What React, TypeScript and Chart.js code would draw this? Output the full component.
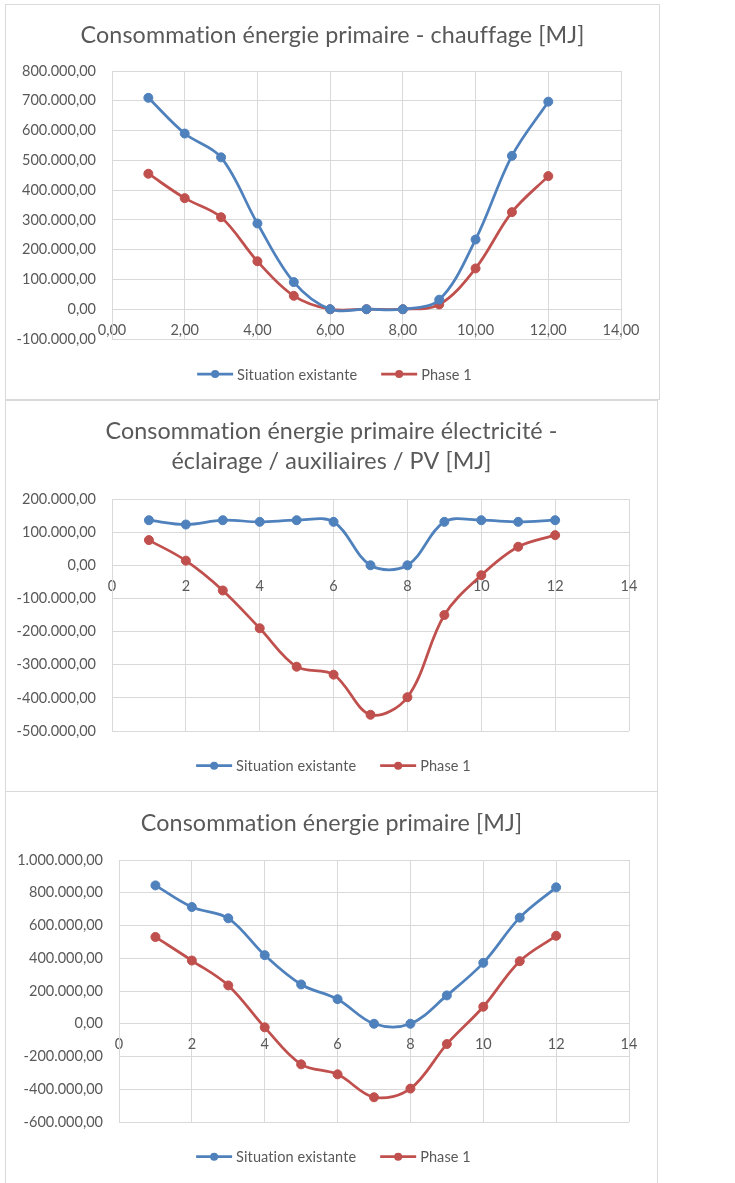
import { useEffect, useRef } from "react";
import { Chart, registerables } from "chart.js";

Chart.register(...registerables);

const FONT = "Lato";
const TEXT_COLOR = "#595959";
const GRID_COLOR = "#d9d9d9";
const BLUE = "#4f81bd";
const RED = "#c0504d";

// Months of the year (x values)
const months = [1, 2, 3, 4, 5, 6, 7, 8, 9, 10, 11, 12];

// Heating – primary energy [MJ]
const chauffageExistante = [710000, 590000, 510000, 288000, 91000, 0, 0, 0, 32000, 234000, 515000, 697000];
const chauffagePhase1 = [455000, 373000, 309000, 161000, 45000, 0, 0, 0, 16000, 137000, 326000, 447000];

// Electricity (lighting / auxiliaries / PV) – primary energy [MJ]
const electriciteExistante = [136000, 123000, 136000, 131000, 136000, 131000, 0, 0, 131000, 136000, 131000, 136000];
const electricitePhase1 = [76000, 14000, -76000, -190000, -306000, -330000, -451000, -398000, -150000, -30000, 56000, 91000];

// Total primary energy [MJ]
const totalExistante = [845000, 713000, 644000, 419000, 240000, 150000, 0, 0, 173000, 372000, 648000, 833000];
const totalPhase1 = [530000, 386000, 234000, -22000, -248000, -309000, -449000, -396000, -124000, 104000, 382000, 537000];

const seriesNames = ["Situation existante", "Phase 1"];

// Axis bounds: [min, max, step]
const chauffageYAxis = [-100000, 800000, 100000];
const electriciteYAxis = [-500000, 200000, 100000];
const totalYAxis = [-600000, 1000000, 200000];
const monthAxis = [0, 14, 2];

function formatNumber(v: number, decimals: number): string {
  const neg = v < 0;
  const fixed = Math.abs(v).toFixed(decimals);
  const [intPart, dec] = fixed.split(".");
  const grouped = intPart.replace(/\B(?=(\d{3})+(?!\d))/g, ".");
  return (neg ? "-" : "") + grouped + (dec ? "," + dec : "");
}

type Spec = {
  title: string[];
  titleBaselines: number[];
  existante: number[];
  phase1: number[];
  yAxis: number[];
  xDecimals: number;
  box: { left: number; top: number; width: number; height: number };
  padding: { left: number; top: number; right: number; bottom: number };
  axisWidth: number;
  legendY: number;
};

const specs: Spec[] = [
  {
    title: ["Consommation énergie primaire - chauffage [MJ]"],
    titleBaselines: [38.5],
    existante: chauffageExistante,
    phase1: chauffagePhase1,
    yAxis: chauffageYAxis,
    xDecimals: 2,
    box: { left: 5, top: 4, width: 655, height: 396 },
    padding: { left: 0, top: 67, right: 39, bottom: 61 },
    axisWidth: 107,
    legendY: 370,
  },
  {
    title: ["Consommation énergie primaire électricité -", "éclairage / auxiliaires / PV [MJ]"],
    titleBaselines: [39, 69],
    existante: electriciteExistante,
    phase1: electricitePhase1,
    yAxis: electriciteYAxis,
    xDecimals: 0,
    box: { left: 5, top: 400, width: 653, height: 392 },
    padding: { left: 0, top: 99, right: 29, bottom: 61 },
    axisWidth: 107,
    legendY: 365.7,
  },
  {
    title: ["Consommation énergie primaire [MJ]"],
    titleBaselines: [39.7],
    existante: totalExistante,
    phase1: totalPhase1,
    yAxis: totalYAxis,
    xDecimals: 0,
    box: { left: 5, top: 791, width: 653, height: 400 },
    padding: { left: 0, top: 69, right: 29, bottom: 69 },
    axisWidth: 114,
    legendY: 365.7,
  },
];

const TITLE_SIZE = 23.3;
const TICK_SIZE = 14.5;
const LEGEND_SIZE = 14.5;

// Draws the chart title and an Excel-style legend (line with a marker)
const decorations = {
  id: "decorations",
  afterDraw(chart: any, _args: any, opts: any) {
    const ctx: any = chart.ctx;
    ctx.save();
    // a tiny letter spacing keeps the browser from forming "ti" ligatures
    ctx.letterSpacing = "0.1px";
    ctx.fillStyle = TEXT_COLOR;
    ctx.font = `${TITLE_SIZE}px ${FONT}`;
    ctx.textAlign = "center";
    ctx.textBaseline = "alphabetic";
    (opts.title as string[]).forEach((line, i) => {
      ctx.fillText(line, chart.width / 2, opts.titleBaselines[i]);
    });

    ctx.font = `${LEGEND_SIZE}px ${FONT}`;
    const lineLen = 36;
    const gap = 4;
    const spacing = 24;
    const items = chart.data.datasets.map((ds: any) => ({
      label: ds.label as string,
      color: ds.borderColor as string,
      w: ctx.measureText(ds.label).width,
    }));
    const total =
      items.reduce((s: number, it: any) => s + lineLen + gap + it.w, 0) + spacing * (items.length - 1);
    let x = chart.width / 2 + 2 - total / 2;
    const y = opts.legendY;
    items.forEach((it: any) => {
      ctx.strokeStyle = it.color;
      ctx.lineWidth = 2.75;
      ctx.beginPath();
      ctx.moveTo(x, y);
      ctx.lineTo(x + lineLen, y);
      ctx.stroke();
      ctx.fillStyle = it.color;
      ctx.beginPath();
      ctx.arc(x + lineLen / 2, y, 4, 0, Math.PI * 2);
      ctx.fill();
      ctx.fillStyle = TEXT_COLOR;
      ctx.textAlign = "left";
      ctx.textBaseline = "middle";
      ctx.fillText(it.label, x + lineLen + gap, y + 1);
      x += lineLen + gap + it.w + spacing;
    });
    ctx.restore();
  },
};

function makeDataset(label: string, values: number[], color: string) {
  return {
    label,
    data: months.map((m, i) => ({ x: m, y: values[i] })),
    borderColor: color,
    backgroundColor: color,
    borderWidth: 2.75,
    pointRadius: 4.5,
    pointBorderWidth: 1,
    pointBackgroundColor: color,
    pointBorderColor: color,
    tension: 0.35,
    fill: false,
  };
}

function ChartBox({ spec }: { spec: Spec }) {
  const ref = useRef<HTMLCanvasElement>(null);
  useEffect(() => {
    const [yMin, yMax, yStep] = spec.yAxis;
    const [xMin, xMax, xStep] = monthAxis;
    const chart = new Chart(ref.current as HTMLCanvasElement, {
      type: "line",
      data: {
        datasets: [
          makeDataset(seriesNames[0], spec.existante, BLUE),
          makeDataset(seriesNames[1], spec.phase1, RED),
        ],
      },
      options: {
        responsive: false,
        animation: false,
        layout: { padding: spec.padding },
        plugins: {
          legend: { display: false },
          title: { display: false },
          tooltip: { enabled: false },
          decorations: {
            title: spec.title,
            titleBaselines: spec.titleBaselines,
            legendY: spec.legendY,
          },
        } as any,
        scales: {
          x: {
            type: "linear",
            position: { y: 0 } as any,
            min: xMin,
            max: xMax,
            grid: { color: GRID_COLOR, drawTicks: false, lineWidth: 1 },
            border: { color: GRID_COLOR },
            ticks: {
              stepSize: xStep,
              padding: 12,
              maxRotation: 0,
              autoSkip: false,
              color: TEXT_COLOR,
              font: { family: FONT, size: TICK_SIZE },
              callback: (v: any) => formatNumber(Number(v), spec.xDecimals),
            },
          },
          y: {
            type: "linear",
            position: "left",
            min: yMin,
            max: yMax,
            grid: { color: GRID_COLOR, drawTicks: false, lineWidth: 1 },
            border: { color: GRID_COLOR },
            ticks: {
              stepSize: yStep,
              padding: 16,
              color: TEXT_COLOR,
              font: { family: FONT, size: TICK_SIZE },
              callback: (v: any) => formatNumber(Number(v), 2),
            },
            afterFit: (scale: any) => {
              scale.width = spec.axisWidth;
            },
          },
        },
      },
      plugins: [decorations as any],
    } as any);
    return () => chart.destroy();
  }, [spec]);

  const { left, top, width, height } = spec.box;
  return (
    <div
      style={{
        position: "absolute",
        left,
        top,
        width,
        height,
        border: `1px solid ${GRID_COLOR}`,
        boxSizing: "border-box",
        background: "#fff",
      }}
    >
      <canvas
        ref={ref}
        width={width}
        height={height}
        style={{ position: "absolute", left: -1, top: -1, width, height }}
      />
    </div>
  );
}

export default function App() {
  return (
    <div
      style={{
        position: "absolute",
        left: 0,
        top: 0,
        width: 735,
        height: 1183,
        overflow: "hidden",
        background: "#fff",
      }}
    >
      {specs.map((s, i) => (
        <ChartBox key={i} spec={s} />
      ))}
    </div>
  );
}
